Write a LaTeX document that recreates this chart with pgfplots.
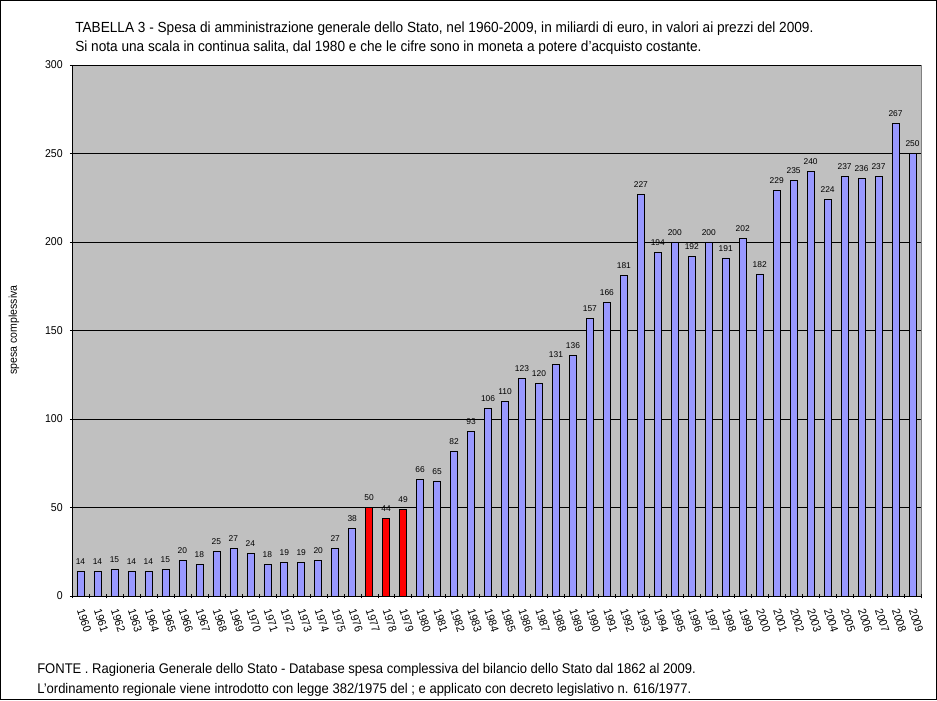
\documentclass[border=0pt]{standalone}
\usepackage{fontspec}
\setmainfont[FakeStretch=0.93]{Liberation Sans}
\newfontfamily\lblfont{Liberation Sans}
\usepackage{pgfplots}
\usepackage{pgfplotstable}
\pgfplotsset{compat=1.18}

\definecolor{plotbg}{HTML}{C0C0C0}
\definecolor{barblue}{HTML}{9999FF}
\definecolor{barred}{HTML}{FF0000}

% spesa per anno (indice 0 = 1960)
\pgfplotstableread{
x y
0 14
1 14
2 15
3 14
4 14
5 15
6 20
7 18
8 25
9 27
10 24
11 18
12 19
13 19
14 20
15 27
16 38
20 66
21 65
22 82
23 93
24 106
25 110
26 123
27 120
28 131
29 136
30 157
31 166
32 181
33 227
34 194
35 200
36 192
37 200
38 191
39 202
40 182
41 229
42 235
43 240
44 224
45 237
46 236
47 237
48 267
49 250
}\bluedata

% 1977-1979
\pgfplotstableread{
x y
17 50
18 44
19 49
}\reddata

\begin{document}
\begin{tikzpicture}
\useasboundingbox (-54pt,-78pt) rectangle (648.75pt,447pt);
\fill[white] (-54pt,-78pt) rectangle (648.75pt,447pt);
\begin{axis}[
  at={(0,0)}, anchor=south west,
  scale only axis,
  width=636.75pt, height=398.25pt,
  ybar, bar width=5.25pt,
  xmin=-0.5, xmax=49.5,
  ymin=0, ymax=300,
  ytick={0,50,...,300},
  xtick={0,...,49},
  xticklabels={1960,1961,1962,1963,1964,1965,1966,1967,1968,1969,
    1970,1971,1972,1973,1974,1975,1976,1977,1978,1979,
    1980,1981,1982,1983,1984,1985,1986,1987,1988,1989,
    1990,1991,1992,1993,1994,1995,1996,1997,1998,1999,
    2000,2001,2002,2003,2004,2005,2006,2007,2008,2009},
  minor xtick={-0.5,0.5,...,49.5},
  major x tick style={draw=none},
  minor x tick style={draw=black},
  ytick style={draw=black},
  tick align=outside,
  major tick length=3pt, minor tick length=3.5pt,
  xtick pos=bottom, ytick pos=left,
  axis lines=left,
  axis line style={-, black},
  axis background/.style={fill=plotbg, draw=gray},
  ymajorgrids, grid style={black, line width=0.5pt},
  /pgf/number format/assume math mode=true,
  yticklabel style={font=\fontsize{8.5}{10}\selectfont, xshift=-2pt},
  xticklabel style={font=\fontsize{8.5}{10}\selectfont, rotate=-72, anchor=west, inner sep=0pt},
  xticklabel shift=8.5pt,
  nodes near coords,
  nodes near coords style={font=\lblfont\fontsize{6.3}{7}\selectfont, black, yshift=1.5pt},
]
\addplot[draw=black, fill=barblue, bar shift=0pt] table[x=x, y=y] {\bluedata};
\addplot[draw=black, fill=barred, bar shift=0pt] table[x=x, y=y] {\reddata};
\end{axis}

\node[anchor=base west, font=\fontsize{11}{13}\selectfont, inner sep=0pt] at (2.25pt,422.25pt)
  {TABELLA 3 - Spesa di amministrazione generale dello Stato, nel 1960-2009, in miliardi di euro, in valori ai prezzi del 2009.};
\node[anchor=base west, font=\fontsize{11}{13}\selectfont, inner sep=0pt] at (2.25pt,408pt)
  {Si nota una scala in continua salita, dal 1980 e che le cifre sono in moneta a potere d'acquisto costante.};
\node[rotate=90, font=\fontsize{8.5}{10}\selectfont] at (-43.5pt,199.5pt) {spesa complessiva};
\node[anchor=base west, font=\fontsize{10.5}{12}\selectfont, inner sep=0pt] at (-26.25pt,-57.75pt)
  {FONTE . Ragioneria Generale dello Stato - Database spesa complessiva del bilancio dello Stato dal 1862 al 2009.};
\node[anchor=base west, font=\fontsize{10.5}{12}\selectfont, inner sep=0pt] at (-26.25pt,-72.75pt)
  {L'ordinamento regionale viene introdotto con legge 382/1975 del ; e applicato con decreto legislativo n. 616/1977.};
\draw[line width=0.8pt] (-53.6pt,-77.6pt) rectangle (648.35pt,446.6pt);
\end{tikzpicture}
\end{document}
